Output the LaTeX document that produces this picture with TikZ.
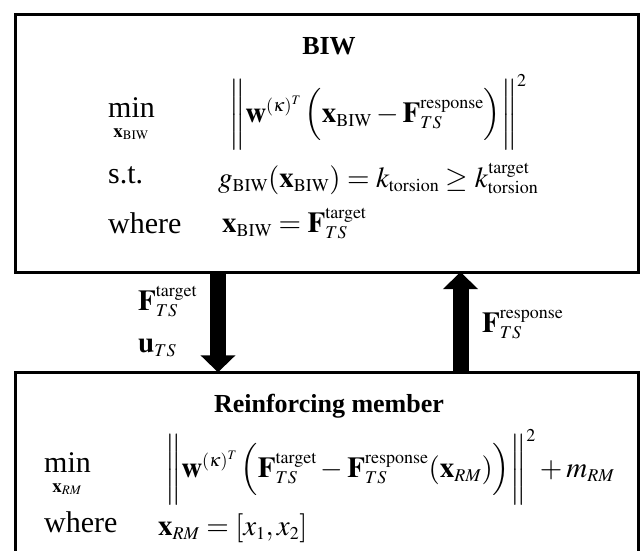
\documentclass[tikz,border=0pt]{standalone}
\usepackage{mathptmx}
\usepackage{fontspec}
\setmainfont{Liberation Serif}
\usepackage{tikz}
\usetikzlibrary{positioning, arrows.meta}
\DeclareMathSizes{29}{29}{18}{13}
\DeclareMathSizes{19}{19}{13}{10}

\begin{document}
\begin{tikzpicture}[
        x=1pt, y=-1pt,
        panel/.style={draw, line width=3pt, rectangle, outer sep=0pt, inner sep=0pt, minimum width=623pt, anchor=north west},
        title/.style={font=\fontsize{26}{30}\selectfont\bfseries, inner sep=0pt, anchor=base},
        word/.style={font=\fontsize{30}{36}\selectfont, inner sep=0pt, anchor=base west},
        formula/.style={font=\fontsize{29}{35}\selectfont, inner sep=0pt, anchor=base west},
        under/.style={font=\fontsize{19}{22}\selectfont, inner sep=0pt, anchor=base},
        fatarrow/.style={-{Triangle[width=34pt, length=17pt]}, line width=16pt}
    ]
    \useasboundingbox (0,0) rectangle (642,551);
    \clip (0,0) rectangle (642,551);

    % Define the blocks
    \node[panel, minimum height=257.7pt] (biw) at (15.7,14.3) {};
    \node[panel, minimum height=250pt] (rm) at (15.7,372.3) {};

    % BIW problem
    \node[title] (biwtitle) at (329,55) {BIW};
    \node[word] (minA) at (108,117) {min};
    \node[under] (minAsub) at (131,137) {$\mathbf{x}_{\mathrm{BIW}}$};
    \node[formula] (objA) at (229,122)
        {$\biggl\|\mathbf{w}^{(\kappa)^{T}}\,\Bigl(\mathbf{x}_{\mathrm{BIW}}-\mathbf{F}_{TS}^{\mathrm{response}}\Bigr)\biggr\|^{2}$};
    \node[word] (stA) at (108,183) {s.t.};
    \node[formula] (conA) at (218,187)
        {$g_{\mathrm{BIW}}(\mathbf{x}_{\mathrm{BIW}})=k_{\mathrm{torsion}}\geq k_{\mathrm{torsion}}^{\mathrm{target}}$};
    \node[word] (whereA) at (108,233) {where};
    \node[formula] (eqA) at (222,232) {$\mathbf{x}_{\mathrm{BIW}}=\mathbf{F}_{TS}^{\mathrm{target}}$};

    % Reinforcing member problem
    \node[title] (rmtitle) at (329,412) {Reinforcing member};
    \node[word] (minB) at (44,472) {min};
    \node[under] (minBsub) at (67,492) {$\mathbf{x}_{RM}$};
    \node[formula] (objB) at (165,477)
        {$\biggl\|\mathbf{w}^{(\kappa)^{T}}\,\Bigl(\mathbf{F}_{TS}^{\mathrm{target}}-\mathbf{F}_{TS}^{\mathrm{response}}(\mathbf{x}_{RM})\Bigr)\biggr\|^{2}+m_{RM}$};
    \node[word] (whereB) at (44,532) {where};
    \node[formula] (eqB) at (158,535) {$\mathbf{x}_{RM}=[x_{1},x_{2}]$};

    % Draw the connecting arrows
    \coordinate (down) at (218,0);
    \coordinate (up) at (460.5,0);
    \draw[fatarrow] (biw.south -| down) -- (rm.north -| down);
    \draw[fatarrow] (rm.north -| up) -- (biw.south -| up);

    % Arrow labels
    \node[formula] (ftarget) at (138,310) {$\mathbf{F}_{TS}^{\mathrm{target}}$};
    \node[formula] (uts) at (138,352) {$\mathbf{u}_{TS}$};
    \node[formula] (fresponse) at (482,332) {$\mathbf{F}_{TS}^{\mathrm{response}}$};

\end{tikzpicture}
\end{document}
